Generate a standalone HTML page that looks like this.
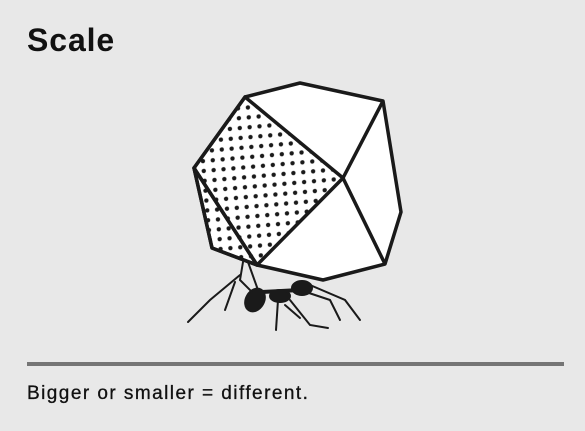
<!DOCTYPE html>
<html><head><meta charset="utf-8"><style>
body{margin:0;width:585px;height:431px;background:#e8e8e8;font-family:"Liberation Sans",sans-serif;overflow:hidden;position:relative}
h1{position:absolute;left:27px;top:22px;margin:0;font-size:32px;font-weight:bold;color:#111;letter-spacing:0.9px}
.rule{position:absolute;left:27px;top:362px;width:537px;height:4px;background:#757575}
p{position:absolute;left:27px;top:383px;margin:0;font-size:19px;color:#111;letter-spacing:1.45px;-webkit-text-stroke:0.3px #111}
svg{position:absolute;left:0;top:0}
</style></head><body>
<h1>Scale</h1>
<svg width="585" height="431">
<defs><pattern id="dots" width="14" height="14" patternUnits="userSpaceOnUse" patternTransform="rotate(40)"><circle cx="7" cy="7" r="2.2" fill="#1a1a1a"/><circle cx="0" cy="0" r="2.2" fill="#1a1a1a"/><circle cx="14" cy="0" r="2.2" fill="#1a1a1a"/><circle cx="0" cy="14" r="2.2" fill="#1a1a1a"/><circle cx="14" cy="14" r="2.2" fill="#1a1a1a"/></pattern></defs>
<g stroke="#1a1a1a" stroke-width="3.5" stroke-linejoin="round" fill="#fff">
<polygon points="245,97 300,83 383,101 401,212 385,264 323,280 257,265 212,248 194,168"/>
<polygon points="245,97 343,178 257,265 194,168" fill="url(#dots)"/>
<polygon points="194,168 257,265 212,248" fill="url(#dots)"/>
<polyline points="383,101 343,178 385,264" fill="none"/>
</g>
<g stroke="#1a1a1a" stroke-width="2" fill="none" stroke-linecap="round">
<path d="M243,262 L240,280 L260,300"/><path d="M248,262 L258,290"/>
<path d="M240,275 L210,300 L188,322"/><path d="M235,282 L225,310"/>
<path d="M278,300 L276,330"/><path d="M290,300 L310,325 L328,328"/>
<path d="M300,290 L330,300 L340,320"/><path d="M310,285 L345,300 L360,320"/>
<path d="M285,305 L300,318"/>
<ellipse cx="255" cy="300" rx="9" ry="12" fill="#1a1a1a" transform="rotate(30 255 300)"/>
<ellipse cx="280" cy="296" rx="10" ry="6" fill="#1a1a1a"/>
<ellipse cx="302" cy="288" rx="10" ry="7" fill="#1a1a1a"/>
<path d="M262,292 L300,290" stroke-width="4"/>
</g>
</svg>
<div class="rule"></div>
<p>Bigger or smaller = different.</p>
</body></html>
